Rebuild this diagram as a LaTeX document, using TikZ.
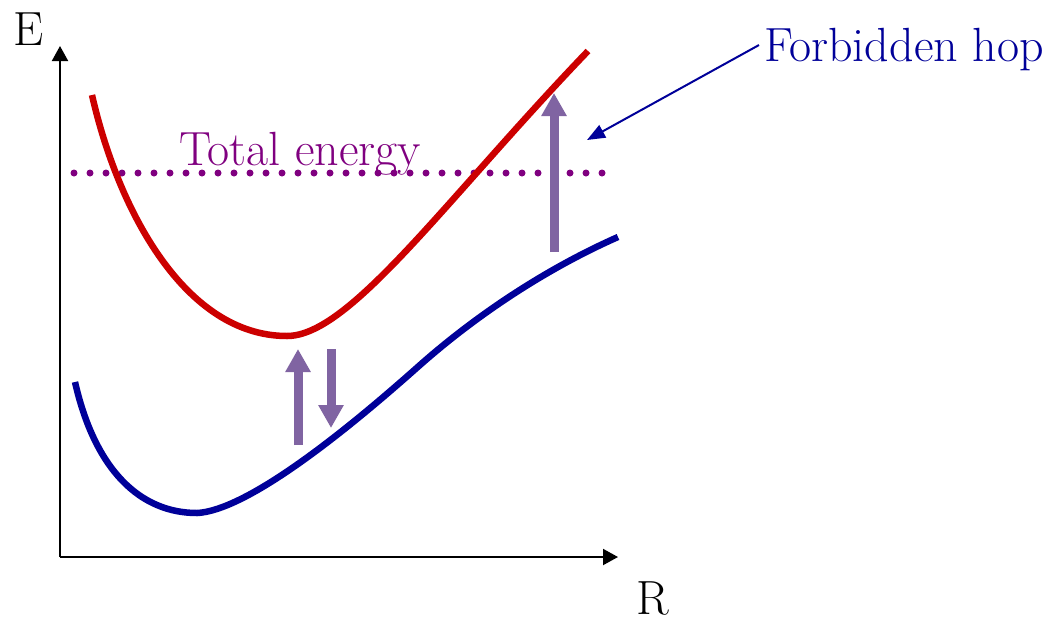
\documentclass[tikz,border=0pt]{standalone}
\usepackage{fontspec}
\usetikzlibrary{arrows.meta}
\definecolor{curvered}{RGB}{204,0,0}
\definecolor{curveblue}{RGB}{0,0,153}
\definecolor{textpurple}{RGB}{128,0,128}
\definecolor{hoppurple}{RGB}{128,100,162}
\tikzset{
  axis/.style={line width=2pt,-{Triangle[width=16pt,length=15pt]}},
  curve/.style={line width=6.5pt},
  hoparrow/.style={hoppurple,line width=9pt,-{Triangle[width=24pt,length=23pt]}},
  lbl/.style={inner sep=0pt,font=\rmfamily\fontsize{48}{56}\selectfont},
  pointer/.style={curveblue,line width=2pt,-{Triangle[width=14pt,length=18pt]}}
}
\begin{document}
\begin{tikzpicture}[x=1pt,y=-1pt]
\useasboundingbox[fill=white] (0,0) rectangle (1052,622);
% axes
\coordinate (origin) at (60,557);
\coordinate (etop) at (60,46);
\coordinate (rend) at (618,557);
\draw[axis] (origin) -- (etop);
\draw[axis] (origin) -- (rend);
\node[lbl,anchor=base west] (E) at (13,45) {E};
\node[lbl,anchor=base west] (R) at (636,614) {R};
% total energy
\coordinate (tel) at (74,173);
\coordinate (ter) at (604,173);
\draw[textpurple,line width=7pt,line cap=round,dash pattern=on 0pt off 16pt] (tel) -- (ter);
\node[lbl,anchor=base west,text=textpurple] (te) at (179,165) {Total energy};
% red curve
\draw[curvered,curve] (92,95) .. controls (118,210) and (185,336) .. (287,336)
  .. controls (350,336) and (445,200) .. (588,51);
% blue curve
\draw[curveblue,curve] (75,382) .. controls (95,470) and (140,513) .. (197,513)
  .. controls (255,510) and (375,405) .. (420,365)
  .. controls (480,312) and (550,267) .. (618,237);
% hops
\coordinate (h1a) at (298,445);
\coordinate (h1b) at (298,349);
\coordinate (h2a) at (331,349);
\coordinate (h2b) at (331,428);
\coordinate (h3a) at (554,252);
\coordinate (h3b) at (554,93);
\draw[hoparrow] (h1a) -- (h1b);
\draw[hoparrow] (h2a) -- (h2b);
\draw[hoparrow] (h3a) -- (h3b);
% forbidden hop label
\node[lbl,anchor=base west,text=curveblue] (fh) at (764,61) {Forbidden hop};
\coordinate (hoptip) at (587,140);
\draw[pointer] ([shift={(-5,-4)}]fh.west) -- (hoptip);
\end{tikzpicture}
\end{document}
